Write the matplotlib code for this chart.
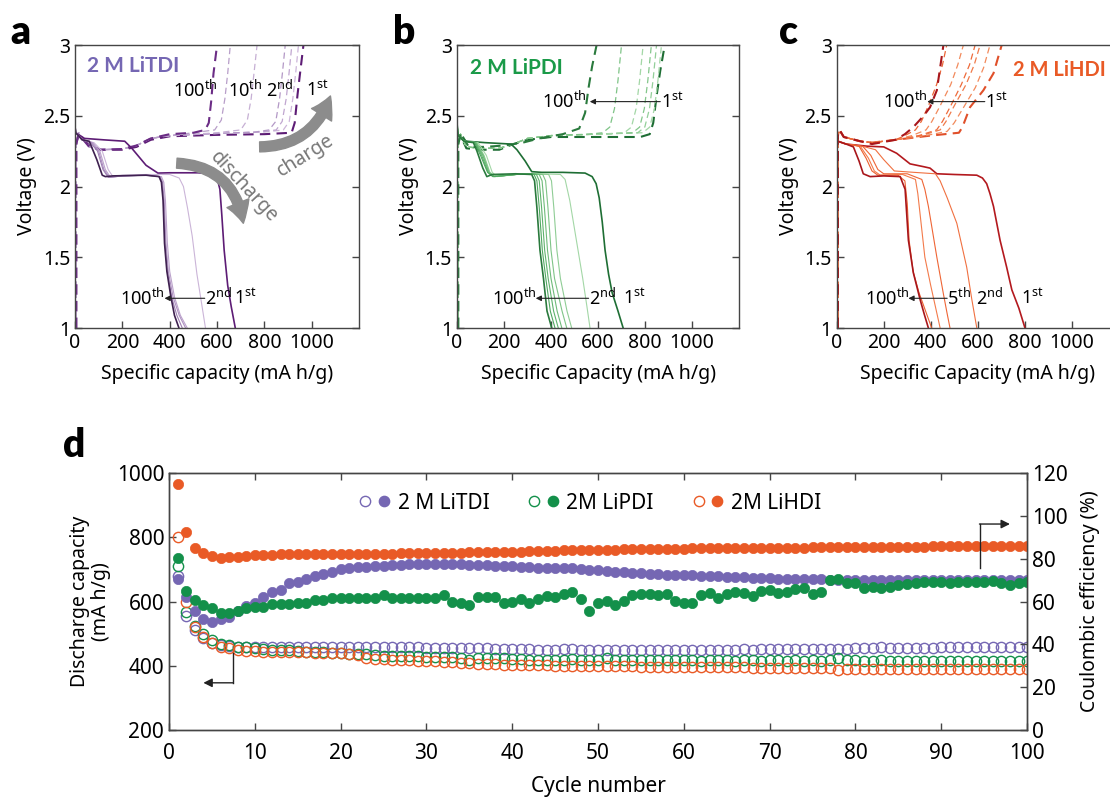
import matplotlib
matplotlib.use("Agg")
import matplotlib.pyplot as plt
from matplotlib.lines import Line2D
from matplotlib.legend_handler import HandlerTuple

plt.rcParams['font.family'] = ['Noto Sans', 'DejaVu Sans']
plt.rcParams['mathtext.fontset'] = 'custom'
plt.rcParams['mathtext.rm'] = 'Noto Sans'
plt.rcParams['mathtext.it'] = 'Noto Sans:italic'
plt.rcParams['mathtext.bf'] = 'Noto Sans:bold'
BOLD = ['Lato', 'DejaVu Sans']

# ---------------- voltage profiles (capacity mA h/g, voltage V) ----------------
# 2 M LiTDI: discharge 1st, 2nd, 10th, 20th, 50th, 100th
TDI_DIS_CAP = [
    [0, 0, 3, 40, 120, 210, 240, 265, 300, 350, 400, 520, 570, 600, 612, 620, 630, 645, 660, 677],
    [0, 3, 30, 80, 115, 140, 160, 200, 300, 400, 440, 458, 475, 495, 515, 535, 551],
    [0, 3, 30, 75, 105, 128, 150, 200, 300, 365, 375, 382, 390, 400, 420, 445, 474],
    [0, 3, 30, 70, 100, 122, 145, 200, 300, 360, 370, 377, 384, 394, 414, 440, 467],
    [0, 3, 30, 65, 95, 118, 140, 200, 300, 355, 366, 373, 380, 390, 408, 430, 453],
    [0, 3, 30, 60, 92, 115, 128, 160, 300, 355, 365, 372, 378, 388, 405, 420, 439],
]
TDI_DIS_V = [
    [3.0, 2.42, 2.38, 2.34, 2.33, 2.32, 2.27, 2.22, 2.15, 2.095, 2.097, 2.097, 2.09, 2.06, 1.98, 1.80, 1.55, 1.30, 1.15, 1.0],
    [2.45, 2.38, 2.33, 2.31, 2.25, 2.12, 2.07, 2.08, 2.085, 2.085, 2.06, 2.0, 1.85, 1.65, 1.38, 1.17, 1.0],
    [2.42, 2.38, 2.33, 2.31, 2.25, 2.12, 2.065, 2.075, 2.08, 2.07, 2.03, 1.9, 1.6, 1.4, 1.22, 1.09, 1.0],
    [2.42, 2.38, 2.33, 2.31, 2.25, 2.12, 2.065, 2.075, 2.08, 2.07, 2.03, 1.9, 1.6, 1.4, 1.22, 1.09, 1.0],
    [2.42, 2.38, 2.33, 2.31, 2.25, 2.12, 2.065, 2.075, 2.08, 2.07, 2.03, 1.9, 1.6, 1.4, 1.22, 1.09, 1.0],
    [2.42, 2.38, 2.33, 2.32, 2.19, 2.08, 2.07, 2.075, 2.08, 2.07, 2.03, 1.9, 1.6, 1.4, 1.22, 1.09, 1.0],
]
TDI_DIS_COL = ['#5d1c75', '#cbb5d8', '#bca3cc', '#ad90c0', '#9e7eb3', '#3f2150']

# charge 1st ... 100th
TDI_CHG_CAP = [
    [5, 5, 15, 60, 110, 200, 260, 320, 400, 600, 800, 915, 928, 940, 952, 965],
    [5, 5, 15, 60, 110, 200, 260, 320, 400, 600, 800, 880, 905, 920, 932, 944],
    [5, 5, 15, 60, 110, 200, 260, 320, 400, 600, 780, 850, 875, 892, 904, 916],
    [5, 5, 15, 60, 110, 200, 260, 320, 400, 600, 760, 820, 848, 864, 876, 888],
    [5, 5, 15, 60, 110, 200, 260, 320, 400, 500, 600, 700, 728, 744, 756, 769],
    [5, 5, 15, 60, 110, 200, 260, 320, 400, 450, 500, 590, 618, 633, 645, 656],
    [5, 5, 15, 60, 110, 200, 260, 320, 400, 450, 500, 550, 565, 575, 585, 600],
]
TDI_CHG_V = [
    [1.0, 2.30, 2.37, 2.29, 2.26, 2.26, 2.28, 2.33, 2.355, 2.365, 2.37, 2.38, 2.45, 2.65, 2.82, 3.0],
    [1.0, 2.30, 2.38, 2.28, 2.26, 2.265, 2.29, 2.34, 2.36, 2.375, 2.385, 2.40, 2.46, 2.62, 2.8, 3.0],
    [1.0, 2.30, 2.38, 2.28, 2.26, 2.265, 2.29, 2.34, 2.36, 2.375, 2.385, 2.40, 2.46, 2.62, 2.8, 3.0],
    [1.0, 2.30, 2.38, 2.28, 2.26, 2.265, 2.29, 2.34, 2.36, 2.375, 2.385, 2.40, 2.46, 2.62, 2.8, 3.0],
    [1.0, 2.30, 2.38, 2.28, 2.26, 2.265, 2.29, 2.34, 2.36, 2.37, 2.38, 2.40, 2.47, 2.62, 2.8, 3.0],
    [1.0, 2.30, 2.38, 2.28, 2.26, 2.265, 2.29, 2.34, 2.36, 2.37, 2.38, 2.40, 2.47, 2.62, 2.8, 3.0],
    [1.0, 2.30, 2.37, 2.28, 2.26, 2.265, 2.29, 2.34, 2.37, 2.375, 2.38, 2.40, 2.45, 2.6, 2.8, 3.0],
]
TDI_CHG_COL = ['#5d1c75', '#cdb6da', '#c0a6d0', '#b398c6', '#c6afd4', '#b89ec9', '#6b2c85']

# 2 M LiPDI: discharge 1st, 2nd, ..., 100th
PDI_DIS_CAP = [
    [0, 0, 5, 40, 120, 230, 255, 290, 318, 360, 450, 545, 575, 592, 605, 618, 630, 645, 660, 685, 707],
    [0, 5, 30, 90, 125, 150, 170, 250, 350, 440, 460, 480, 510, 535, 553, 566],
    [0, 5, 30, 85, 115, 140, 162, 250, 320, 390, 402, 412, 425, 440, 468, 488],
    [0, 5, 30, 82, 112, 137, 160, 250, 320, 365, 377, 387, 400, 415, 447, 467],
    [0, 5, 30, 80, 110, 135, 158, 250, 320, 350, 362, 372, 385, 400, 426, 446],
    [0, 5, 30, 78, 105, 132, 155, 250, 320, 338, 350, 360, 373, 388, 411, 431],
    [0, 5, 30, 75, 100, 130, 152, 250, 320, 328, 340, 350, 363, 378, 397, 417],
    [0, 5, 30, 70, 85, 110, 127, 150, 250, 318, 330, 340, 353, 368, 383, 403],
]
PDI_DIS_V = [
    [3.0, 2.45, 2.36, 2.32, 2.31, 2.30, 2.26, 2.18, 2.105, 2.10, 2.10, 2.095, 2.07, 2.02, 1.92, 1.75, 1.55, 1.38, 1.25, 1.12, 1.0],
    [2.45, 2.36, 2.32, 2.31, 2.22, 2.10, 2.07, 2.085, 2.09, 2.085, 2.05, 1.9, 1.6, 1.35, 1.15, 1.0],
    [2.45, 2.36, 2.32, 2.31, 2.22, 2.10, 2.07, 2.085, 2.09, 2.085, 2.04, 1.85, 1.55, 1.35, 1.12, 1.0],
    [2.45, 2.36, 2.32, 2.31, 2.22, 2.10, 2.07, 2.085, 2.09, 2.085, 2.04, 1.85, 1.55, 1.35, 1.12, 1.0],
    [2.45, 2.36, 2.32, 2.31, 2.22, 2.10, 2.07, 2.085, 2.09, 2.085, 2.04, 1.85, 1.55, 1.35, 1.12, 1.0],
    [2.45, 2.36, 2.32, 2.31, 2.22, 2.10, 2.07, 2.085, 2.09, 2.085, 2.04, 1.85, 1.55, 1.35, 1.12, 1.0],
    [2.45, 2.36, 2.32, 2.31, 2.22, 2.10, 2.07, 2.085, 2.09, 2.085, 2.04, 1.85, 1.55, 1.35, 1.12, 1.0],
    [2.42, 2.36, 2.32, 2.31, 2.25, 2.13, 2.07, 2.085, 2.09, 2.085, 2.04, 1.85, 1.55, 1.35, 1.12, 1.0],
]
PDI_DIS_COL = ['#1e6e34', '#a3d7a6', '#8fcd95', '#7fc487', '#6fbb7a', '#5fb26d', '#4fa860', '#2a7a3d']

PDI_CHG_CAP = [
    [5, 5, 15, 40, 100, 180, 240, 300, 400, 600, 780, 820, 835, 850, 865, 884],
    [5, 5, 15, 40, 100, 180, 240, 300, 400, 600, 790, 820, 840, 855, 870],
    [5, 5, 15, 40, 100, 180, 240, 300, 400, 600, 769, 799, 819, 834, 849],
    [5, 5, 15, 40, 100, 180, 240, 300, 400, 600, 747, 777, 797, 812, 827],
    [5, 5, 15, 40, 100, 180, 240, 300, 400, 600, 712, 742, 762, 777, 792],
    [5, 5, 15, 40, 100, 180, 240, 300, 400, 560, 620, 650, 670, 685, 700],
    [5, 5, 15, 50, 120, 200, 280, 350, 450, 520, 545, 560, 575, 594],
]
PDI_CHG_V = [
    [1.0, 2.30, 2.36, 2.27, 2.26, 2.26, 2.30, 2.33, 2.35, 2.35, 2.35, 2.37, 2.45, 2.65, 2.82, 3.0],
    [1.0, 2.30, 2.37, 2.28, 2.27, 2.27, 2.30, 2.34, 2.36, 2.37, 2.38, 2.42, 2.55, 2.75, 3.0],
    [1.0, 2.30, 2.37, 2.28, 2.27, 2.27, 2.30, 2.34, 2.36, 2.37, 2.38, 2.42, 2.55, 2.75, 3.0],
    [1.0, 2.30, 2.37, 2.28, 2.27, 2.27, 2.30, 2.34, 2.36, 2.37, 2.38, 2.42, 2.55, 2.75, 3.0],
    [1.0, 2.30, 2.37, 2.28, 2.27, 2.27, 2.30, 2.34, 2.36, 2.37, 2.38, 2.42, 2.55, 2.75, 3.0],
    [1.0, 2.30, 2.37, 2.28, 2.27, 2.27, 2.30, 2.34, 2.36, 2.37, 2.38, 2.42, 2.55, 2.75, 3.0],
    [1.0, 2.30, 2.38, 2.28, 2.28, 2.29, 2.31, 2.34, 2.37, 2.41, 2.52, 2.7, 2.85, 3.0],
]
PDI_CHG_COL = ['#1e6e34', '#a3d7a6', '#93cf99', '#84c78b', '#a3d7a6', '#7fc487', '#2a7a3d']

# 2 M LiHDI: discharge 1st, 2nd, 5th, 10th, 20th, 100th
HDI_DIS_CAP = [
    [0, 0, 5, 40, 130, 200, 255, 312, 370, 397, 426, 500, 596, 620, 638, 652, 667, 695, 723, 745, 775, 801],
    [0, 5, 40, 120, 165, 200, 245, 330, 420, 440, 470, 511, 553, 575, 596],
    [0, 5, 40, 110, 145, 175, 200, 300, 362, 375, 390, 426, 454, 470, 482],
    [0, 5, 40, 100, 135, 160, 185, 280, 335, 345, 355, 375, 400, 420, 440],
    [0, 5, 40, 95, 125, 150, 175, 260, 290, 300, 308, 325, 350, 378, 404],
    [0, 5, 40, 71, 95, 113, 142, 200, 270, 291, 305, 326, 355, 372, 390],
]
HDI_DIS_V = [
    [3.0, 2.35, 2.32, 2.30, 2.285, 2.28, 2.235, 2.16, 2.14, 2.13, 2.09, 2.085, 2.08, 2.06, 2.02, 1.95, 1.86, 1.62, 1.43, 1.27, 1.14, 1.0],
    [2.36, 2.32, 2.30, 2.28, 2.26, 2.19, 2.11, 2.10, 2.09, 2.04, 1.92, 1.74, 1.43, 1.2, 1.0],
    [2.36, 2.32, 2.30, 2.285, 2.22, 2.12, 2.09, 2.09, 2.05, 1.98, 1.86, 1.5, 1.24, 1.1, 1.0],
    [2.36, 2.32, 2.30, 2.285, 2.20, 2.11, 2.08, 2.085, 2.05, 1.95, 1.8, 1.5, 1.3, 1.15, 1.0],
    [2.36, 2.32, 2.30, 2.285, 2.20, 2.11, 2.08, 2.08, 2.04, 1.88, 1.62, 1.4, 1.25, 1.12, 1.0],
    [2.36, 2.32, 2.30, 2.28, 2.18, 2.09, 2.07, 2.075, 2.07, 1.98, 1.62, 1.39, 1.2, 1.1, 1.0],
]
HDI_DIS_COL = ['#b3191e', '#f07040', '#ef6535', '#f37a4a', '#ec5f2e', '#a8161b']

HDI_CHG_CAP = [
    [5, 5, 12, 30, 100, 150, 250, 400, 520, 535, 567, 624, 667, 702],
    [5, 5, 12, 30, 100, 150, 250, 380, 470, 500, 540, 590, 625, 652],
    [5, 5, 12, 30, 100, 150, 250, 360, 440, 465, 500, 550, 585, 610],
    [5, 5, 12, 30, 100, 150, 250, 350, 425, 450, 485, 530, 565, 589],
    [5, 5, 12, 30, 100, 150, 250, 320, 380, 405, 440, 485, 515, 539],
    [5, 5, 12, 30, 100, 150, 250, 290, 335, 360, 390, 425, 450, 468],
    [5, 5, 12, 30, 100, 150, 250, 290, 326, 370, 397, 426, 447, 454],
]
HDI_CHG_V = [
    [1.0, 2.36, 2.40, 2.35, 2.32, 2.31, 2.33, 2.36, 2.38, 2.42, 2.56, 2.68, 2.80, 3.0],
    [1.0, 2.36, 2.40, 2.35, 2.32, 2.31, 2.33, 2.36, 2.39, 2.45, 2.56, 2.70, 2.84, 3.0],
    [1.0, 2.36, 2.40, 2.35, 2.32, 2.31, 2.33, 2.36, 2.40, 2.46, 2.57, 2.72, 2.86, 3.0],
    [1.0, 2.36, 2.40, 2.35, 2.32, 2.31, 2.33, 2.36, 2.40, 2.46, 2.57, 2.72, 2.86, 3.0],
    [1.0, 2.36, 2.40, 2.35, 2.32, 2.31, 2.33, 2.36, 2.40, 2.46, 2.57, 2.72, 2.86, 3.0],
    [1.0, 2.36, 2.40, 2.35, 2.32, 2.31, 2.33, 2.36, 2.40, 2.46, 2.57, 2.72, 2.86, 3.0],
    [1.0, 2.36, 2.40, 2.35, 2.32, 2.30, 2.33, 2.37, 2.42, 2.5, 2.56, 2.68, 2.92, 3.0],
]
HDI_CHG_COL = ['#e0502a', '#f28a5c', '#f07a4a', '#ee6a3a', '#f28a5c', '#ec6535', '#a8161b']

# ---------------- cycling data ----------------
CYCLES = list(range(1, 101))

TDI_CAP = [680, 555, 510, 485, 470, 466, 462, 460, 460, 459,
           459, 459, 459, 458, 458, 458, 459, 459, 458, 458,
           458, 458, 458, 457, 457, 457, 458, 457, 457, 456,
           456, 456, 456, 455, 455, 454, 454, 453, 452, 452,
           451, 451, 450, 450, 450, 451, 452, 450, 450, 450,
           450, 449, 450, 449, 449, 450, 450, 449, 449, 450,
           450, 449, 450, 450, 450, 450, 451, 450, 451, 451,
           452, 452, 453, 453, 452, 452, 453, 453, 453, 454,
           454, 455, 460, 456, 456, 456, 456, 456, 456, 457,
           457, 457, 458, 458, 458, 458, 458, 458, 458, 458]
PDI_CAP = [710, 568, 524, 500, 480, 468, 465, 460, 457, 455,
           452, 450, 450, 448, 446, 444, 443, 442, 440, 440,
           438, 437, 436, 434, 432, 431, 430, 429, 429, 428,
           428, 427, 427, 424, 418, 425, 424, 423, 423, 420,
           420, 419, 419, 418, 418, 418, 420, 418, 417, 418,
           425, 418, 418, 417, 417, 417, 418, 417, 417, 417,
           417, 416, 417, 417, 417, 416, 417, 417, 416, 417,
           417, 416, 417, 416, 417, 416, 417, 424, 419, 417,
           416, 416, 417, 416, 416, 416, 416, 415, 416, 415,
           415, 416, 415, 415, 415, 415, 415, 415, 415, 414]
HDI_CAP = [800, 600, 520, 490, 470, 460, 455, 450, 447, 445,
           444, 444, 443, 443, 442, 442, 441, 441, 440, 440,
           438, 433, 425, 422, 420, 419, 418, 417, 416, 415,
           414, 413, 411, 410, 408, 407, 406, 405, 404, 403,
           403, 402, 402, 401, 400, 400, 400, 399, 399, 399,
           398, 398, 398, 398, 397, 397, 397, 397, 396, 396,
           396, 396, 395, 395, 395, 395, 395, 394, 394, 394,
           394, 394, 393, 393, 393, 393, 392, 388, 390, 391,
           390, 390, 391, 390, 390, 390, 390, 390, 390, 390,
           389, 389, 389, 389, 389, 389, 389, 389, 389, 389]

TDI_CE = [70.4, 62.0, 55.7, 51.8, 50.6, 51.8, 52.6, 55.7, 57.9, 59.4,
          62.2, 64.3, 65.4, 68.5, 69.3, 70.4, 71.9, 72.8, 73.9, 75.0,
          75.5, 76.0, 76.3, 76.8, 76.8, 77.2, 77.3, 77.4, 77.5, 77.5,
          77.5, 77.4, 77.5, 77.4, 77.3, 77.2, 77.0, 76.8, 76.6, 76.4,
          76.2, 76.0, 75.8, 75.6, 75.6, 75.7, 75.7, 75.2, 74.9, 74.7,
          74.4, 74.0, 73.6, 73.4, 73.2, 73.0, 72.8, 72.6, 72.5, 72.4,
          72.2, 72.0, 71.9, 71.8, 71.6, 71.5, 71.3, 71.1, 71.0, 70.8,
          70.7, 70.3, 70.5, 70.5, 70.4, 70.3, 70.2, 70.2, 70.1, 70.0,
          70.1, 69.9, 70.0, 70.1, 70.0, 70.2, 70.0, 69.9, 70.0, 70.1,
          70.0, 69.9, 70.0, 70.1, 70.0, 70.0, 70.1, 69.9, 70.0, 70.0]
PDI_CE = [80.2, 65.1, 60.5, 58.4, 57.1, 54.8, 54.8, 55.7, 56.8, 57.3,
          57.6, 58.7, 58.7, 58.7, 59.4, 59.4, 60.7, 60.7, 61.5, 61.8,
          61.8, 61.8, 61.8, 61.8, 63.0, 61.8, 61.8, 61.8, 61.8, 61.8,
          61.8, 63.0, 60.0, 59.4, 58.4, 62.2, 62.2, 62.2, 59.4, 60.0,
          61.0, 59.2, 61.0, 62.5, 62.2, 63.4, 64.6, 61.0, 55.7, 59.1,
          60.2, 58.4, 60.4, 63.0, 63.5, 63.5, 63.0, 63.5, 60.2, 59.4,
          59.4, 63.0, 64.0, 61.5, 63.5, 64.4, 64.0, 62.5, 64.7, 65.3,
          64.0, 64.4, 65.8, 66.5, 63.5, 64.4, 70.0, 70.3, 68.5, 68.8,
          66.2, 67.0, 66.2, 67.0, 67.7, 68.0, 68.5, 69.0, 69.2, 69.0,
          68.5, 69.0, 69.2, 69.0, 69.0, 69.5, 68.5, 67.8, 68.5, 69.2]
HDI_CE = [114.9, 92.3, 84.8, 82.5, 81.2, 80.2, 81.0, 81.0, 81.3, 81.7,
          81.8, 81.9, 82.0, 82.0, 82.0, 82.1, 82.1, 82.2, 82.2, 82.2,
          82.3, 82.3, 82.0, 82.4, 82.1, 82.4, 82.5, 82.5, 82.6, 82.6,
          82.7, 82.8, 82.8, 82.9, 83.0, 83.0, 83.1, 83.2, 83.2, 83.3,
          83.3, 83.4, 83.5, 83.6, 83.8, 83.9, 84.0, 84.0, 84.1, 84.2,
          84.3, 84.3, 84.4, 84.4, 84.5, 84.5, 84.6, 84.6, 84.7, 84.7,
          84.8, 84.8, 84.8, 84.9, 84.9, 85.0, 85.0, 85.0, 85.1, 85.1,
          85.1, 85.2, 85.2, 85.2, 85.3, 85.3, 85.3, 85.4, 85.4, 85.5,
          85.5, 85.5, 85.6, 85.6, 85.6, 85.7, 85.7, 85.7, 85.8, 85.8,
          85.8, 85.9, 85.9, 85.9, 86.0, 86.0, 86.0, 86.0, 86.1, 86.1]

TDI_C = '#7567b3'
PDI_C = '#13904a'
HDI_C = '#e95a26'

SPINE = '#454545'
FS = 14


def style_axes(ax):
    for s in ax.spines.values():
        s.set_color(SPINE)
        s.set_linewidth(1.0)
    ax.tick_params(direction='in', length=5, width=1.0, color=SPINE,
                   labelsize=FS, right=True)


def profile_panel(rect, dis_cap, dis_v, dis_col, chg_cap, chg_v, chg_col, xlabel):
    ax = fig.add_axes(rect)
    for c, v, col in zip(chg_cap, chg_v, chg_col):
        thick = col in (chg_col[0], chg_col[-1])
        ax.plot(c, v, color=col, lw=1.5 if thick else 0.9, ls=(0, (5, 3)))
    for c, v, col in zip(dis_cap, dis_v, dis_col):
        thick = col in (dis_col[0], dis_col[-1])
        ax.plot(c, v, color=col, lw=1.2 if thick else 0.8)
    ax.set_xlim(0, 1200)
    ax.set_ylim(1, 3)
    ax.set_xticks([0, 200, 400, 600, 800, 1000])
    ax.set_yticks([1, 1.5, 2, 2.5, 3])
    ax.set_yticklabels(['1', '1.5', '2', '2.5', '3'])
    ax.set_xlabel(xlabel, fontsize=FS, labelpad=8)
    ax.set_ylabel('Voltage (V)', fontsize=FS)
    style_axes(ax)
    return ax


def left_arrow(ax, x0, x1, y):
    ax.annotate('', xy=(x1, y), xytext=(x0, y),
                arrowprops=dict(arrowstyle='-|>', color='#222222', lw=0.8,
                                mutation_scale=8, shrinkA=0, shrinkB=0))


TH = '$^{\\mathrm{th}}$'
ND = '$^{\\mathrm{nd}}$'
ST = '$^{\\mathrm{st}}$'
LFS = 13

fig = plt.figure(figsize=(11.1, 8.01), dpi=100)

# ---- panel a ----
ax_a = profile_panel([0.0676, 0.5905, 0.2559, 0.3533], TDI_DIS_CAP, TDI_DIS_V, TDI_DIS_COL,
                     TDI_CHG_CAP, TDI_CHG_V, TDI_CHG_COL, 'Specific capacity (mA h/g)')
ax_a.text(50, 2.85, '2 M LiTDI', color=TDI_C, fontsize=15, fontweight='bold',
          family=BOLD, va='center')
ax_a.text(415, 2.68, '100' + TH, fontsize=LFS, va='center')
ax_a.text(645, 2.68, '10' + TH, fontsize=LFS, va='center')
ax_a.text(805, 2.68, '2' + ND, fontsize=LFS, va='center')
ax_a.text(975, 2.68, '1' + ST, fontsize=LFS, va='center')
ax_a.text(190, 1.21, '100' + TH, fontsize=LFS, va='center')
left_arrow(ax_a, 548, 378, 1.21)
ax_a.text(548, 1.21, '2' + ND, fontsize=LFS, va='center')
ax_a.text(672, 1.21, '1' + ST, fontsize=LFS, va='center')
big = dict(arrowstyle='simple,head_width=0.85,head_length=0.75,tail_width=0.36',
           color='#8c8c8c', mutation_scale=20, shrinkA=0, shrinkB=0)
ax_a.annotate('', xy=(711, 1.74), xytext=(430, 2.165),
              arrowprops=dict(connectionstyle='arc3,rad=-0.4', **big))
ax_a.annotate('', xy=(1079, 2.64), xytext=(780, 2.28),
              arrowprops=dict(connectionstyle='arc3,rad=0.35', **big))
ax_a.text(715, 2.0, 'discharge', color='#777777', fontsize=14, rotation=-47,
          ha='center', va='center')
ax_a.text(975, 2.22, 'charge', color='#777777', fontsize=14, rotation=32,
          ha='center', va='center')

# ---- panel b ----
ax_b = profile_panel([0.4117, 0.5905, 0.2541, 0.3533], PDI_DIS_CAP, PDI_DIS_V, PDI_DIS_COL,
                     PDI_CHG_CAP, PDI_CHG_V, PDI_CHG_COL, 'Specific Capacity (mA h/g)')
ax_b.text(57, 2.84, '2 M LiPDI', color='#1a9a48', fontsize=15, fontweight='bold',
          family=BOLD, va='center')
ax_b.text(360, 2.6, '100' + TH, fontsize=LFS, va='center')
left_arrow(ax_b, 865, 565, 2.6)
ax_b.text(870, 2.6, '1' + ST, fontsize=LFS, va='center')
ax_b.text(150, 1.21, '100' + TH, fontsize=LFS, va='center')
left_arrow(ax_b, 560, 335, 1.21)
ax_b.text(560, 1.21, '2' + ND, fontsize=LFS, va='center')
ax_b.text(707, 1.21, '1' + ST, fontsize=LFS, va='center')

# ---- panel c (runs past the right edge) ----
ax_c = profile_panel([0.7538, 0.5905, 0.2541, 0.3533], HDI_DIS_CAP, HDI_DIS_V, HDI_DIS_COL,
                     HDI_CHG_CAP, HDI_CHG_V, HDI_CHG_COL, 'Specific Capacity (mA h/g)')
ax_c.text(748, 2.82, '2 M LiHDI', color=HDI_C, fontsize=14.5, fontweight='bold',
          family=BOLD, va='center')
ax_c.text(195, 2.6, '100' + TH, fontsize=LFS, va='center')
left_arrow(ax_c, 630, 385, 2.6)
ax_c.text(631, 2.6, '1' + ST, fontsize=LFS, va='center')
ax_c.text(122, 1.21, '100' + TH, fontsize=LFS, va='center')
left_arrow(ax_c, 470, 305, 1.21)
ax_c.text(468, 1.21, '5' + TH, fontsize=LFS, va='center')
ax_c.text(591, 1.21, '2' + ND, fontsize=LFS, va='center')
ax_c.text(783, 1.21, '1' + ST, fontsize=LFS, va='center')

# ---- panel d ----
ax_d = fig.add_axes([0.1523, 0.0886, 0.773, 0.3208])
ax_e = ax_d.twinx()
ms = 7.4
for cap, ce, col in [(TDI_CAP, TDI_CE, TDI_C), (PDI_CAP, PDI_CE, PDI_C), (HDI_CAP, HDI_CE, HDI_C)]:
    ax_d.plot(CYCLES, cap, 'o', ms=ms, mfc='none', mec=col, mew=1.0, ls='none')
    ax_e.plot(CYCLES, ce, 'o', ms=ms, mfc=col, mec=col, mew=0.5, ls='none')

ax_d.set_xlim(0, 100)
ax_d.set_ylim(200, 1000)
ax_e.set_ylim(0, 120)
ax_d.set_xticks(range(0, 101, 10))
ax_d.set_yticks(range(200, 1001, 200))
ax_e.set_yticks(range(0, 121, 20))
ax_d.set_xlabel('Cycle number', fontsize=FS + 1, labelpad=9)
ax_d.set_ylabel('Discharge capacity\n(mA h/g)', fontsize=FS, linespacing=1.1)
ax_e.set_ylabel('Coulombic efficiency (%)', fontsize=FS, labelpad=9)
for s in list(ax_d.spines.values()) + list(ax_e.spines.values()):
    s.set_color(SPINE)
    s.set_linewidth(1.0)
ax_d.tick_params(direction='in', length=5, width=1.0, color=SPINE, labelsize=FS + 1, top=True)
ax_d.tick_params(axis='x', pad=9)
ax_e.tick_params(direction='in', length=5, width=1.0, color=SPINE, labelsize=FS + 1)

# axis pointer arrows
ax_d.plot([7.4, 7.4], [440, 347], color='#222222', lw=1.0)
ax_d.annotate('', xy=(4.0, 347), xytext=(7.45, 347),
              arrowprops=dict(arrowstyle='-|>', color='#222222', lw=1.0,
                              mutation_scale=13, shrinkA=0, shrinkB=0))
ax_e.plot([94.5, 94.5], [75.5, 96.2], color='#222222', lw=1.0)
ax_e.annotate('', xy=(98.0, 96.2), xytext=(94.45, 96.2),
              arrowprops=dict(arrowstyle='-|>', color='#222222', lw=1.0,
                              mutation_scale=13, shrinkA=0, shrinkB=0))

handles = []
for col in [TDI_C, PDI_C, HDI_C]:
    h_open = Line2D([], [], marker='o', ms=ms, mfc='none', mec=col, mew=1.0, ls='none')
    h_fill = Line2D([], [], marker='o', ms=ms, mfc=col, mec=col, ls='none')
    handles.append((h_open, h_fill))
ax_e.legend(handles, ['2 M LiTDI', '2M LiPDI', '2M LiHDI'], ncol=3, frameon=False,
            fontsize=FS + 1, loc='center', bbox_to_anchor=(0.49, 0.883),
            handler_map={tuple: HandlerTuple(ndivide=None, pad=0.2)},
            handlelength=1.6, handletextpad=0.3, columnspacing=1.8)

# panel letters
for x, y, s in [(0.009, 0.945, 'a'), (0.354, 0.945, 'b'), (0.702, 0.945, 'c'), (0.057, 0.430, 'd')]:
    fig.text(x, y, s, fontsize=28, fontweight='heavy', family=BOLD)

fig.savefig('out.png', dpi=100)
